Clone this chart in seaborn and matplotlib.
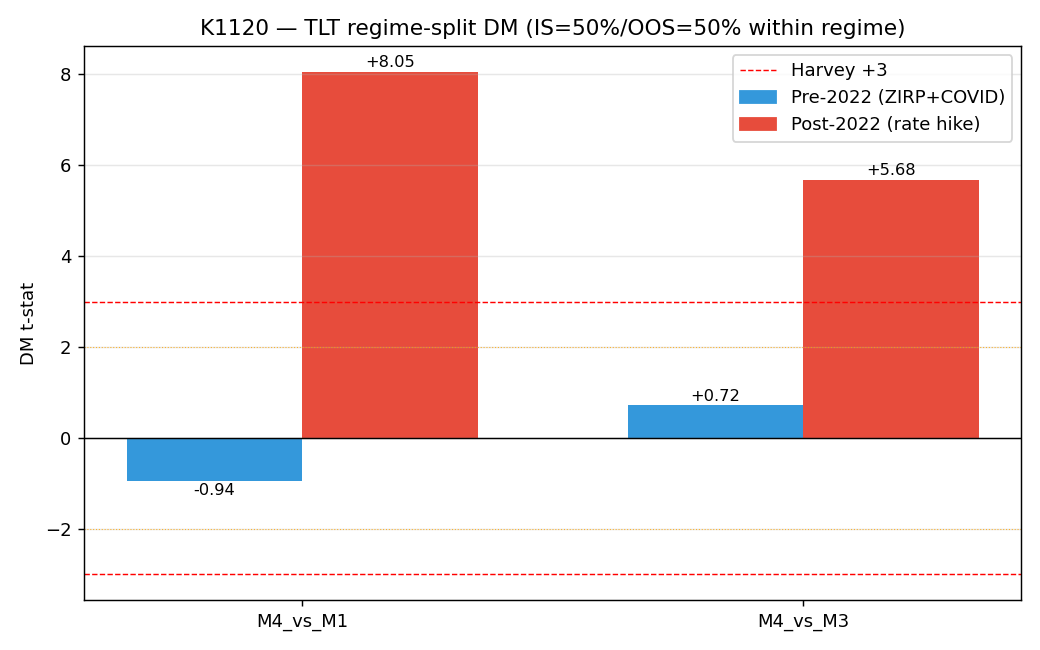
import matplotlib
matplotlib.use("Agg")
import matplotlib.pyplot as plt
import seaborn as sns
import pandas as pd
from matplotlib.lines import Line2D
from matplotlib.patches import Patch

comparisons = ["M4_vs_M1", "M4_vs_M3"]
regimes = ["Pre-2022 (ZIRP+COVID)", "Post-2022 (rate hike)"]
pre_2022 = [-0.94, 0.72]
post_2022 = [8.05, 5.68]
colors = ["#3498db", "#e74c3c"]
harvey = 3

df = pd.DataFrame({
    "comparison": comparisons * 2,
    "regime": [regimes[0]] * 2 + [regimes[1]] * 2,
    "dm": pre_2022 + post_2022,
})

fig, ax = plt.subplots(figsize=(8, 5), dpi=130)
sns.barplot(data=df, x="comparison", y="dm", hue="regime", hue_order=regimes,
            order=comparisons, palette=dict(zip(regimes, colors)),
            saturation=1, width=0.7, errorbar=None, linewidth=0,
            edgecolor="none", legend=False, ax=ax)

for cont in ax.containers:
    ax.bar_label(cont, fmt="%+.2f", fontsize=9, padding=1)

ax.axhline(0, color="black", linewidth=0.8)
ax.axhline(harvey, color="red", linestyle="--", linewidth=0.8)
ax.axhline(-harvey, color="red", linestyle="--", linewidth=0.8)
ax.axhline(2, color="orange", linestyle=":", linewidth=0.6, alpha=0.8)
ax.axhline(-2, color="orange", linestyle=":", linewidth=0.6, alpha=0.8)

ax.grid(axis="y", alpha=0.3)
ax.set_xlim(-0.435, 1.435)
ax.set_ylim(-3.56, 8.62)
ax.set_xlabel("")
ax.set_ylabel("DM t-stat")
ax.set_title("K1120 — TLT regime-split DM (IS=50%/OOS=50% within regime)", fontsize=12)

handles = [Line2D([], [], color="red", linestyle="--", linewidth=0.8),
           Patch(color=colors[0]), Patch(color=colors[1])]
ax.legend(handles, ["Harvey +3"] + regimes, loc="upper right")

fig.subplots_adjust(left=0.081, right=0.982, top=0.929, bottom=0.077)
fig.savefig("out.png", dpi=130)
